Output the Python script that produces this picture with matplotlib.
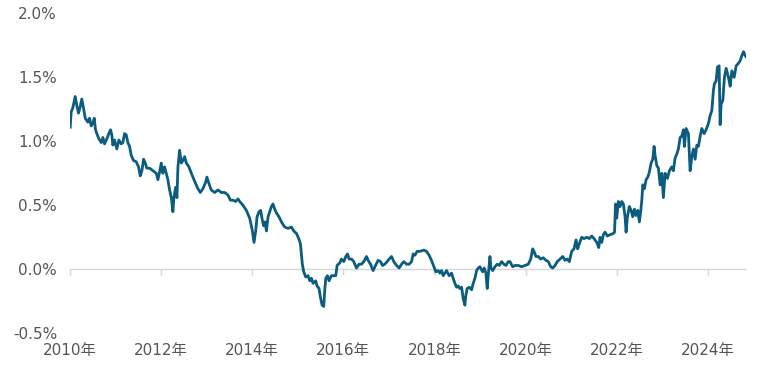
import matplotlib
matplotlib.use("Agg")
import matplotlib.pyplot as plt
from matplotlib.ticker import FuncFormatter

plt.rcParams['font.family'] = ['DejaVu Sans', 'Noto Sans CJK JP']

# decimal years since 2010 and yield values (%)
t_offset = [
    0.015, 0.037, 0.072, 0.125, 0.160, 0.197, 0.235, 0.270, 0.307, 0.345,
    0.402, 0.439, 0.476, 0.511, 0.542, 0.571, 0.599, 0.643, 0.696, 0.731,
    0.768, 0.819, 0.862, 0.900, 0.928, 0.950, 0.987, 1.038, 1.082, 1.135,
    1.170, 1.207, 1.244, 1.279, 1.317, 1.354, 1.404, 1.464, 1.514, 1.551,
    1.587, 1.624, 1.661, 1.696, 1.756, 1.828, 1.903, 1.938, 1.975, 2.012,
    2.047, 2.085, 2.122, 2.157, 2.194, 2.232, 2.267, 2.289, 2.326, 2.355,
    2.377, 2.414, 2.451, 2.486, 2.524, 2.561, 2.618, 2.671, 2.706, 2.765,
    2.815, 2.868, 2.925, 2.984, 3.013, 3.057, 3.107, 3.182, 3.254, 3.329,
    3.401, 3.474, 3.527, 3.584, 3.643, 3.693, 3.731, 3.803, 3.878, 3.950,
    4.009, 4.045, 4.082, 4.111, 4.155, 4.191, 4.229, 4.257, 4.286, 4.317,
    4.352, 4.389, 4.426, 4.461, 4.499, 4.536, 4.593, 4.646, 4.718, 4.790,
    4.865, 4.915, 4.975, 5.025, 5.062, 5.082, 5.104, 5.135, 5.179, 5.229,
    5.267, 5.304, 5.339, 5.398, 5.427, 5.471, 5.501, 5.537, 5.574, 5.596,
    5.618, 5.655, 5.690, 5.741, 5.778, 5.837, 5.866, 5.925, 5.962, 6.013,
    6.057, 6.094, 6.129, 6.182, 6.232, 6.291, 6.348, 6.401, 6.452, 6.511,
    6.546, 6.599, 6.656, 6.709, 6.765, 6.818, 6.862, 6.912, 6.963, 7.007,
    7.059, 7.110, 7.169, 7.226, 7.279, 7.329, 7.389, 7.446, 7.498, 7.534,
    7.571, 7.621, 7.680, 7.768, 7.827, 7.882, 7.935, 7.988, 8.032, 8.082,
    8.120, 8.157, 8.192, 8.229, 8.266, 8.323, 8.376, 8.411, 8.449, 8.486,
    8.521, 8.558, 8.596, 8.631, 8.668, 8.690, 8.718, 8.762, 8.815, 8.850,
    8.888, 8.925, 8.960, 8.997, 9.056, 9.091, 9.129, 9.157, 9.179, 9.217,
    9.239, 9.276, 9.326, 9.377, 9.421, 9.473, 9.524, 9.568, 9.618, 9.655,
    9.715, 9.765, 9.838, 9.912, 9.985, 10.057, 10.110, 10.154, 10.182, 10.226,
    10.277, 10.329, 10.386, 10.445, 10.496, 10.549, 10.593, 10.643, 10.694, 10.753,
    10.812, 10.862, 10.913, 10.957, 11.009, 11.060, 11.104, 11.141, 11.176, 11.229,
    11.279, 11.339, 11.396, 11.448, 11.499, 11.558, 11.602, 11.630, 11.667, 11.703,
    11.740, 11.791, 11.850, 11.922, 11.948, 11.970, 11.996, 12.032, 12.069, 12.106,
    12.142, 12.179, 12.201, 12.230, 12.273, 12.311, 12.348, 12.383, 12.420, 12.458,
    12.493, 12.524, 12.546, 12.568, 12.603, 12.640, 12.677, 12.712, 12.750, 12.787,
    12.815, 12.837, 12.875, 12.910, 12.947, 12.984, 13.019, 13.056, 13.107, 13.151,
    13.202, 13.238, 13.276, 13.313, 13.348, 13.386, 13.423, 13.458, 13.480, 13.517,
    13.568, 13.605, 13.643, 13.678, 13.715, 13.752, 13.787, 13.825, 13.862, 13.912,
    13.956, 14.007, 14.044, 14.081, 14.116, 14.138, 14.175, 14.204, 14.241, 14.263,
    14.285, 14.322, 14.357, 14.395, 14.445, 14.483, 14.520, 14.571, 14.615, 14.665,
    14.702, 14.740, 14.775, 14.812, 14.834,
]
yield_pct = [
    1.11, 1.23, 1.26, 1.35, 1.28, 1.22, 1.27, 1.33, 1.26, 1.18,
    1.15, 1.18, 1.12, 1.14, 1.18, 1.09, 1.06, 1.02, 0.99, 1.03,
    0.98, 1.02, 1.06, 1.09, 1.05, 0.97, 1.01, 0.94, 1.01, 0.98,
    0.99, 1.06, 1.05, 0.99, 0.96, 0.89, 0.85, 0.84, 0.80, 0.73,
    0.77, 0.86, 0.83, 0.79, 0.79, 0.77, 0.75, 0.70, 0.76, 0.83,
    0.75, 0.80, 0.75, 0.70, 0.62, 0.56, 0.45, 0.56, 0.64, 0.56,
    0.80, 0.93, 0.83, 0.85, 0.88, 0.83, 0.80, 0.75, 0.72, 0.67,
    0.63, 0.60, 0.63, 0.68, 0.72, 0.67, 0.62, 0.60, 0.62, 0.60,
    0.60, 0.58, 0.54, 0.54, 0.53, 0.55, 0.53, 0.50, 0.46, 0.40,
    0.30, 0.21, 0.30, 0.41, 0.45, 0.46, 0.38, 0.34, 0.37, 0.30,
    0.41, 0.45, 0.49, 0.51, 0.47, 0.44, 0.41, 0.37, 0.33, 0.32,
    0.33, 0.30, 0.28, 0.24, 0.20, 0.12, 0.04, -0.02, -0.06, -0.05,
    -0.09, -0.07, -0.11, -0.09, -0.13, -0.15, -0.22, -0.28, -0.29, -0.16,
    -0.07, -0.05, -0.09, -0.05, -0.05, -0.05, 0.03, 0.05, 0.08, 0.06,
    0.10, 0.12, 0.08, 0.08, 0.06, 0.01, 0.04, 0.04, 0.06, 0.10,
    0.07, 0.04, -0.01, 0.03, 0.07, 0.06, 0.03, 0.04, 0.06, 0.08,
    0.10, 0.06, 0.03, 0.01, 0.04, 0.06, 0.04, 0.04, 0.06, 0.12,
    0.11, 0.14, 0.14, 0.15, 0.14, 0.11, 0.07, 0.02, -0.02, -0.01,
    -0.03, -0.01, -0.05, -0.03, -0.01, -0.05, -0.03, -0.07, -0.11, -0.14,
    -0.13, -0.15, -0.14, -0.23, -0.28, -0.20, -0.15, -0.14, -0.16, -0.11,
    -0.07, -0.01, 0.01, 0.02, -0.02, 0.01, -0.03, -0.15, -0.05, 0.10,
    0.01, -0.01, 0.02, 0.04, 0.03, 0.06, 0.04, 0.03, 0.06, 0.06,
    0.02, 0.03, 0.03, 0.02, 0.03, 0.04, 0.08, 0.16, 0.14, 0.10,
    0.10, 0.08, 0.09, 0.07, 0.06, 0.02, 0.01, 0.03, 0.06, 0.08,
    0.10, 0.07, 0.08, 0.06, 0.14, 0.16, 0.23, 0.16, 0.20, 0.25,
    0.24, 0.25, 0.24, 0.26, 0.24, 0.21, 0.17, 0.25, 0.21, 0.27,
    0.29, 0.26, 0.27, 0.28, 0.29, 0.51, 0.40, 0.53, 0.49, 0.53,
    0.51, 0.41, 0.29, 0.41, 0.49, 0.46, 0.41, 0.47, 0.42, 0.46,
    0.37, 0.46, 0.54, 0.66, 0.63, 0.70, 0.72, 0.76, 0.83, 0.86,
    0.96, 0.89, 0.81, 0.79, 0.66, 0.75, 0.56, 0.75, 0.71, 0.77,
    0.80, 0.77, 0.87, 0.90, 0.94, 1.03, 1.04, 1.09, 0.96, 1.10,
    1.06, 0.77, 0.88, 0.94, 0.86, 0.97, 0.96, 1.04, 1.10, 1.06,
    1.09, 1.14, 1.20, 1.24, 1.40, 1.45, 1.47, 1.58, 1.59, 1.13,
    1.29, 1.32, 1.50, 1.57, 1.50, 1.43, 1.55, 1.50, 1.59, 1.61,
    1.63, 1.67, 1.70, 1.67, 1.66,
]
base_year = 2010
tick_years = [2010, 2012, 2014, 2016, 2018, 2020, 2022, 2024]
tick_labels = [f"{y}年" for y in tick_years]
y_ticks = [-0.5, 0.0, 0.5, 1.0, 1.5, 2.0]

years = [base_year + v for v in t_offset]

LINE = '#0B5C7E'
TXT = '#555555'
GRID = '#d6d6d6'

fig = plt.figure(figsize=(7.6, 3.7), dpi=100)
ax = fig.add_axes([69.5 / 760, 1 - 333.3 / 370, (746 - 69.5) / 760, (333.3 - 13.3) / 370])

ax.plot(years, yield_pct, color=LINE, lw=2.0, solid_joinstyle='round')
ax.set_xlim(base_year, 2024.83)
ax.set_ylim(-0.5, 2.0)

ax.set_yticks(y_ticks)
ax.yaxis.set_major_formatter(FuncFormatter(lambda v, p: f"{v:.1f}%"))
ax.tick_params(axis='y', length=0, pad=9, labelsize=11, labelcolor=TXT)

for s in ['top', 'right', 'left']:
    ax.spines[s].set_visible(False)
ax.spines['bottom'].set_position(('data', 0))
ax.spines['bottom'].set_color(GRID)
ax.spines['bottom'].set_linewidth(1.0)
ax.spines['bottom'].set_zorder(0)
ax.set_xticks(tick_years)
ax.tick_params(axis='x', length=4, width=1, color=GRID, labelbottom=False, direction='out')

sec = ax.secondary_xaxis(0.0)
sec.set_xticks(tick_years)
sec.set_xticklabels(tick_labels)
sec.tick_params(axis='x', length=0, pad=7, labelsize=11, labelcolor=TXT)
sec.spines['bottom'].set_visible(False)

fig.savefig('out.png', dpi=100)
